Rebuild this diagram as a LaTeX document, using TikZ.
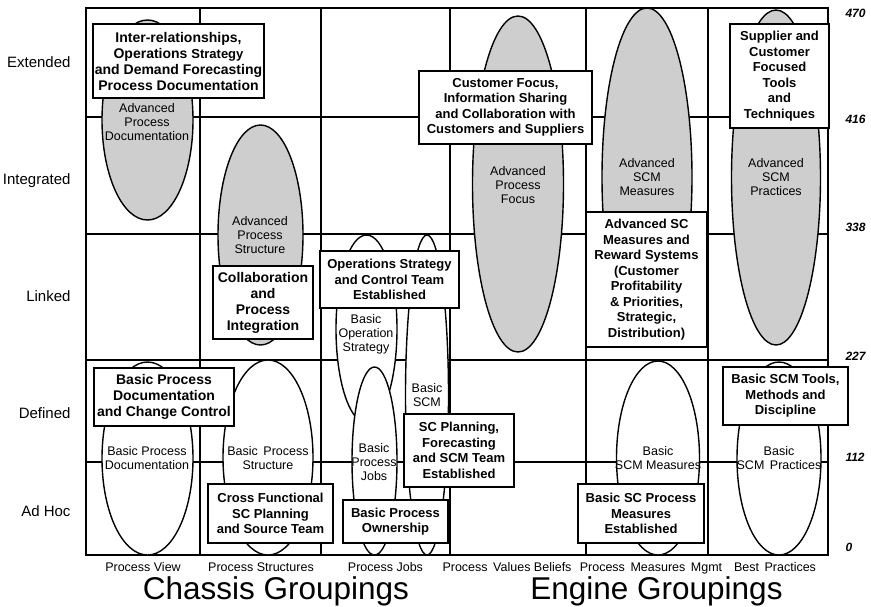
\documentclass[tikz,border=0pt]{standalone}
\usepackage{fontspec}
\setmainfont{Liberation Sans}
\definecolor{oval}{RGB}{206,206,206}

\begin{document}
\begin{tikzpicture}[x=1pt,y=-1pt,
  gridline/.style={line width=1.8pt},
  basicoval/.style={draw, line width=1.4pt, fill=white},
  advoval/.style={draw, line width=1.4pt, fill=oval},
  ovaltext/.style={align=center, inner sep=0pt, font=\fontsize{12.5}{14.2}\selectfont},
  stage/.style={draw, line width=1.8pt, fill=white, align=center, inner sep=0pt,
                font=\fontsize{13}{15.5}\selectfont\bfseries},
  bigstage/.style={stage, font=\fontsize{14}{16}\selectfont\bfseries},
  levelname/.style={anchor=base east, font=\fontsize{15}{15}\selectfont},
  levelnum/.style={anchor=base west, font=\fontsize{12}{12}\selectfont\bfseries\itshape},
  colname/.style={anchor=base, font=\fontsize{12.5}{12.5}\selectfont},
  groupname/.style={anchor=base, font=\fontsize{31.5}{31.5}\selectfont}
]
\useasboundingbox (0,0) rectangle (871,606);

% maturity grid
\draw[gridline] (86,8) rectangle (828,555);
\foreach \gx in {200,321,450,586,708} \draw[gridline] (\gx,8) -- (\gx,555);
\foreach \gy in {117,234,360,462} \draw[gridline] (86,\gy) -- (828,\gy);

% advanced capability ovals
\path[advoval] (147.5,120) ellipse [x radius=45.5pt, y radius=100pt];
\path[advoval] (260.5,235) ellipse [x radius=42.5pt, y radius=110pt];
\path[advoval] (518,184) ellipse [x radius=45.5pt, y radius=168pt];
\path[advoval] (647,177) ellipse [x radius=45pt, y radius=169pt];
\path[advoval] (776,177.5) ellipse [x radius=44.5pt, y radius=167.5pt];

% basic capability ovals
\path[basicoval] (147.5,458.5) ellipse [x radius=45.5pt, y radius=96.5pt];
\path[basicoval] (268,457.5) ellipse [x radius=45pt, y radius=97.5pt];
\path[basicoval] (366.5,329) ellipse [x radius=30.5pt, y radius=94pt];
\path[basicoval] (374.5,461) ellipse [x radius=22.5pt, y radius=94pt];
\path[basicoval] (427,395) ellipse [x radius=21.5pt, y radius=160pt];
\path[basicoval] (658,458) ellipse [x radius=41.5pt, y radius=97pt];
\path[basicoval] (779,458.5) ellipse [x radius=42pt, y radius=96.5pt];

% oval captions
\node[ovaltext] (apdoc) at (147,122) {Advanced\\Process\\Documentation};
\node[ovaltext] (apstruct) at (260,235) {Advanced\\Process\\Structure};
\node[ovaltext] (apfocus) at (518,185) {Advanced\\Process\\Focus};
\node[ovaltext] (ascmmeas) at (647,177) {Advanced\\SCM\\Measures};
\node[ovaltext] (ascmprac) at (776,177) {Advanced\\SCM\\Practices};
\node[ovaltext] (bpdoc) at (147,458) {Basic Process\\Documentation};
\node[ovaltext] (bpstruct) at (268,458) {Basic\, Process\\Structure};
\node[ovaltext] (bopstrat) at (366,334) {Basic\\Operation\\Strategy};
\node[ovaltext] (bpjobs) at (374,462) {Basic\\Process\\Jobs};
\node[ovaltext] (bscm) at (427,395) {Basic\\SCM};
\node[ovaltext] (bscmmeas) at (658,458) {Basic\\SCM Measures};
\node[ovaltext] (bscmprac) at (779,458) {Basic\\SCM\, Practices};

% milestone boxes
\node[bigstage, minimum width=171pt, minimum height=74pt] (interrel) at (178.5,61)
  {Inter-relationships,\\Operations {\fontsize{13}{16}\selectfont Strategy}\\and Demand Forecasting\\Process Documentation};
\node[stage, minimum width=173pt, minimum height=73pt] (custfocus) at (505.5,107.5)
  {Customer Focus,\\Information Sharing\\and Collaboration with\\Customers and Suppliers};
\node[stage, minimum width=99pt, minimum height=104pt] (suppcust) at (779.5,76)
  {Supplier and\\Customer\\Focused\\Tools\\and\\Techniques};
\node[bigstage, minimum width=100pt, minimum height=73pt] (collab) at (263,302.5)
  {Collaboration\\and\\Process\\Integration};
\node[stage, minimum width=139pt, minimum height=57pt] (opsteam) at (389.5,279.5)
  {Operations Strategy\\and Control Team\\Established};
\node[stage, minimum width=121pt, minimum height=135pt] (reward) at (646.5,279.5)
  {Advanced SC\\Measures and\\Reward Systems\\(Customer\\Profitability\\\& Priorities,\\Strategic,\\Distribution)};
\node[bigstage, minimum width=140pt, minimum height=58pt] (changectl) at (164,397)
  {Basic Process\\Documentation\\and Change Control};
\node[stage, minimum width=125pt, minimum height=58pt] (scmtools) at (785.5,396)
  {Basic SCM Tools,\\Methods and\\Discipline};
\node[stage, minimum width=110pt, minimum height=73pt] (scplan) at (459,450.5)
  {SC Planning,\\Forecasting\\and SCM Team\\Established};
\node[stage, minimum width=125pt, minimum height=59pt] (crossfn) at (270.5,513.5)
  {Cross Functional\\SC Planning\\and Source Team};
\node[stage, minimum width=105pt, minimum height=43pt] (ownership) at (395.5,521.5)
  {Basic Process\\Ownership};
\node[stage, minimum width=126pt, minimum height=59pt] (scmeas) at (641,513.5)
  {Basic SC Process\\Measures\\Established};

% maturity levels
\node[levelname] (extended) at (74,67) {Extended};
\node[levelname] (integrated) at (74,184) {Integrated};
\node[levelname] (linked) at (74,301) {Linked};
\node[levelname] (defined) at (74,418) {Defined};
\node[levelname] (adhoc) at (74,516) {Ad Hoc};

% scale values
\node[levelnum] (v470) at (842,17) {470};
\node[levelnum] (v416) at (842,123) {416};
\node[levelnum] (v338) at (842,231) {338};
\node[levelnum] (v227) at (842,360) {227};
\node[levelnum] (v112) at (842,461) {112};
\node[levelnum] (v0) at (842,551) {0};

% column names
\node[colname] (cview) at (143,571) {Process View};
\node[colname] (cstruct) at (261,571) {Process Structures};
\node[colname] (cjobs) at (385.5,571) {Process Jobs};
\node[colname] (cvalues) at (507,571) {Process\, Values Beliefs};
\node[colname] (cmeas) at (651,571) {Process\, Measures\, Mgmt};
\node[colname] (cbest) at (775,571) {Best\, Practices};

% groupings
\node[groupname] (chassis) at (276,599) {Chassis Groupings};
\node[groupname] (engine) at (656.5,599) {Engine Groupings};
\end{tikzpicture}
\end{document}
